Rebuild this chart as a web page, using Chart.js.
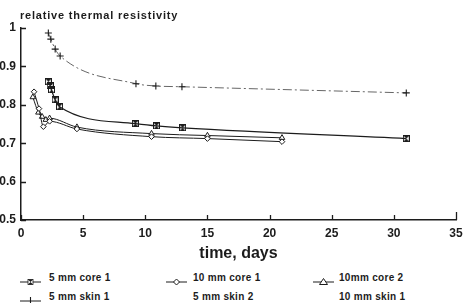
<!DOCTYPE html>
<html>
<head>
<meta charset="utf-8">
<script src="https://cdn.jsdelivr.net/npm/chart.js@4.4.0/dist/chart.umd.min.js"></script>
<style>
  html, body { margin: 0; padding: 0; background: #fff; }
  body { width: 468px; height: 303px; position: relative; overflow: hidden;
         font-family: "Liberation Sans", Arial, sans-serif; color: #1c1c1c; }
  #chart { position: absolute; left: 0; top: 0; }
  #ytitle { position: absolute; left: 20px; top: 9px; font-weight: bold;
            font-size: 11px; letter-spacing: 0.8px; white-space: nowrap; }
  .lg { position: absolute; font-weight: bold; font-size: 10px; letter-spacing: 0.3px;
        white-space: nowrap; line-height: 12px; }
  .sym { position: absolute; }
</style>
</head>
<body>
<canvas id="chart" width="468" height="265"></canvas>
<div id="ytitle">relative thermal resistivity</div>
<div id="legend"></div>
<script>
// time in days / relative thermal resistivity
const core5Days = [2.2, 2.35, 2.45, 2.75, 3.1, 9.2, 10.9, 13.0, 31.0];
const core5Vals = [0.860, 0.849, 0.839, 0.813, 0.795, 0.751, 0.745, 0.740, 0.712];
const skin5Days = [2.2, 2.4, 2.75, 3.15, 9.25, 10.85, 12.95, 31.0];
const skin5Vals = [0.987, 0.971, 0.945, 0.927, 0.855, 0.849, 0.847, 0.831];
const core10aDays = [1.05, 1.45, 1.8, 2.3, 4.5, 10.5, 15.0, 21.0];
const core10aVals = [0.834, 0.790, 0.743, 0.757, 0.737, 0.717, 0.712, 0.704];
const core10bDays = [0.95, 1.4, 1.7, 2.0, 2.3, 4.5, 10.5, 15.0, 21.0];
const core10bVals = [0.820, 0.780, 0.769, 0.761, 0.765, 0.742, 0.725, 0.720, 0.714];

const xTickValues = [0, 5, 10, 15, 20, 25, 30, 35];
const yTickValues = [0.5, 0.6, 0.7, 0.8, 0.9, 1];

const legendRows = [
  ["5 mm core 1", "10 mm core 1", "10mm core 2"],
  ["5 mm skin 1", "5 mm skin 2", "10 mm skin 1"],
];
const legendSymbols = [
  ["hourglass", "diamond", "triangle"],
  ["plus", null, null],
];

const INK = "#1c1c1c";

function toPoints(days, vals) {
  return days.map((d, i) => ({ x: d, y: vals[i] }));
}

function hourglassImage() {
  const c = document.createElement("canvas");
  c.width = 7;
  c.height = 7;
  const g = c.getContext("2d");
  g.strokeStyle = INK;
  g.lineWidth = 1;
  g.strokeRect(0.5, 0.5, 6, 6);
  g.fillStyle = INK;
  g.beginPath(); g.moveTo(0.5, 0.5); g.lineTo(6.5, 0.5); g.lineTo(3.5, 3.5); g.closePath(); g.fill();
  g.beginPath(); g.moveTo(0.5, 6.5); g.lineTo(6.5, 6.5); g.lineTo(3.5, 3.5); g.closePath(); g.fill();
  return c;
}

const innerTicks = {
  id: "innerTicks",
  afterDraw(chart) {
    const { ctx, chartArea: a, scales: { x, y } } = chart;
    ctx.save();
    ctx.strokeStyle = INK;
    ctx.lineWidth = 1.3;
    ctx.beginPath();
    xTickValues.forEach((v) => {
      const px = Math.round(x.getPixelForValue(v)) + 0.5;
      const len = v === 35 ? 8 : 5;
      ctx.moveTo(px, a.bottom);
      ctx.lineTo(px, a.bottom - len);
    });
    yTickValues.forEach((v) => {
      const py = Math.round(y.getPixelForValue(v)) + 0.5;
      ctx.moveTo(a.left, py);
      ctx.lineTo(a.left + 5, py);
    });
    ctx.stroke();
    ctx.restore();
  },
};

const tickFont = { family: "Liberation Sans", size: 12, weight: "bold" };

new Chart(document.getElementById("chart"), {
  type: "line",
  data: {
    datasets: [
      {
        label: "5 mm skin 1",
        data: toPoints(skin5Days, skin5Vals),
        borderColor: "#666",
        borderWidth: 1,
        borderDash: [9, 3, 2, 3],
        pointStyle: "cross",
        pointRadius: 3.5,
        pointBorderColor: INK,
        pointBorderWidth: 1.1,
        cubicInterpolationMode: "monotone",
      },
      {
        label: "5 mm core 1",
        data: toPoints(core5Days, core5Vals),
        borderColor: INK,
        borderWidth: 1.2,
        pointStyle: hourglassImage(),
        cubicInterpolationMode: "monotone",
      },
      {
        label: "10 mm core 1",
        data: toPoints(core10aDays, core10aVals),
        borderColor: INK,
        borderWidth: 1,
        pointStyle: "rectRot",
        pointRadius: 2.8,
        pointBackgroundColor: "#fff",
        pointBorderColor: INK,
        pointBorderWidth: 1,
        cubicInterpolationMode: "monotone",
      },
      {
        label: "10mm core 2",
        data: toPoints(core10bDays, core10bVals),
        borderColor: INK,
        borderWidth: 1,
        pointStyle: "triangle",
        pointRadius: 3.2,
        pointBackgroundColor: "#fff",
        pointBorderColor: INK,
        pointBorderWidth: 1,
        cubicInterpolationMode: "monotone",
      },
    ],
  },
  options: {
    responsive: false,
    animation: false,
    layout: { padding: { top: 28, right: 12, left: 0, bottom: 0 } },
    plugins: { legend: { display: false }, tooltip: { enabled: false } },
    scales: {
      x: {
        type: "linear",
        min: 0,
        max: 35,
        afterBuildTicks: (s) => { s.ticks = xTickValues.map((v) => ({ value: v })); },
        afterFit: (s) => { s.height = 45; s.paddingLeft = 0; s.paddingRight = 0; },
        grid: { display: false, drawTicks: false },
        border: { display: true, color: INK, width: 1.5 },
        ticks: { color: INK, font: tickFont, padding: 6, maxRotation: 0, autoSkip: false },
        title: {
          display: true,
          text: "time, days",
          color: INK,
          font: { family: "Liberation Sans", size: 16, weight: "bold" },
          padding: { top: 0, bottom: 2 },
        },
      },
      y: {
        min: 0.5,
        max: 1,
        afterBuildTicks: (s) => { s.ticks = yTickValues.map((v) => ({ value: v })); },
        afterFit: (s) => { s.width = 21; s.paddingTop = 0; s.paddingBottom = 0; },
        grid: { display: false, drawTicks: false },
        border: { display: true, color: INK, width: 1.5 },
        ticks: {
          color: INK,
          font: tickFont,
          padding: 5,
          callback: (v) => (v === 1 ? "1" : Number(v).toFixed(1)),
        },
      },
    },
  },
  plugins: [innerTicks],
});

// legend below the chart
const colSymX = [20, 166, 313];
const colTextX = [49, 193, 339];
const rowY = [278, 297];

function symbolSvg(kind) {
  const line = '<line x1="0" y1="5" x2="21" y2="5" stroke="' + INK + '" stroke-width="1"/>';
  let mark = "";
  if (kind === "hourglass") {
    mark = '<rect x="8" y="2.5" width="5" height="5" fill="#fff" stroke="' + INK + '" stroke-width="0.8"/>' +
      '<path d="M8 2.5 L13 2.5 L10.5 5 Z M8 7.5 L13 7.5 L10.5 5 Z" fill="' + INK + '"/>';
  } else if (kind === "diamond") {
    mark = '<path d="M10.5 2 L13.5 5 L10.5 8 L7.5 5 Z" fill="#fff" stroke="' + INK + '"/>';
  } else if (kind === "triangle") {
    mark = '<path d="M10.5 1.5 L14.5 7.5 L6.5 7.5 Z" fill="#fff" stroke="' + INK + '"/>';
  } else if (kind === "plus") {
    mark = '<path d="M10.5 1 L10.5 9" stroke="' + INK + '" stroke-width="1.1"/>';
  }
  return '<svg width="22" height="10" xmlns="http://www.w3.org/2000/svg">' + line + mark + "</svg>";
}

const legendEl = document.getElementById("legend");
legendRows.forEach((row, r) => {
  row.forEach((label, c) => {
    const kind = legendSymbols[r][c];
    if (kind) {
      const s = document.createElement("div");
      s.className = "sym";
      s.style.left = colSymX[c] + "px";
      s.style.top = rowY[r] - 5 + "px";
      s.innerHTML = symbolSvg(kind);
      legendEl.appendChild(s);
    }
    const t = document.createElement("div");
    t.className = "lg";
    t.style.left = colTextX[c] + "px";
    t.style.top = rowY[r] - 6 + "px";
    t.textContent = label;
    legendEl.appendChild(t);
  });
});
</script>
</body>
</html>
